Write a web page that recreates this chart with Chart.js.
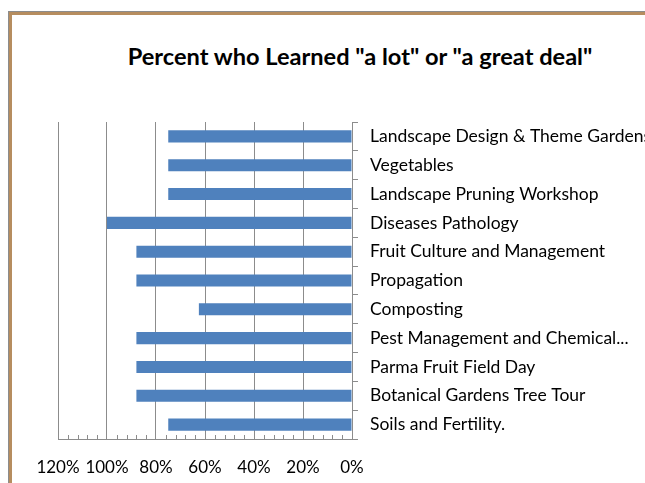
<!DOCTYPE html>
<html>
<head>
<meta charset="utf-8">
<script src="https://cdn.jsdelivr.net/npm/chart.js@4"></script>
<style>
  body { margin: 0; background: #fff; width: 645px; height: 483px; overflow: hidden; position: relative; }
  #frame { position: absolute; left: 8px; top: 11px; width: 700px; height: 500px; border-top: 1px solid #8c8c8c; border-left: 1px solid #8c8c8c; }
  #frame2 { position: absolute; left: 0; top: 0; right: 0; bottom: 0; border-top: 3px solid #b68d5f; border-left: 3px solid #b68d5f; }
  #title { position: absolute; left: 60px; width: 600px; top: 42px; text-align: center; font: bold 23.6px Lato, sans-serif; color: #000; }
  #wrap { position: absolute; left: 0; top: 0; width: 645px; height: 483px; }
</style>
</head>
<body>
<div id="frame"><div id="frame2"></div></div>
<div id="title">Percent who Learned "a lot" or "a great deal"</div>
<div id="wrap"><canvas id="mychart" width="645" height="483"></canvas></div>
<script>
// categories (top to bottom) and values
const workshops = [
    'Landscape Design & Theme Gardens',
    'Vegetables',
    'Landscape Pruning Workshop',
    'Diseases Pathology',
    'Fruit Culture and Management',
    'Propagation',
    'Composting',
    'Pest Management and Chemical...',
    'Parma Fruit Field Day',
    'Botanical Gardens Tree Tour',
    'Soils and Fertility.'
];
const learnedPct = [0.75, 0.75, 0.75, 1.00, 0.88, 0.88, 0.625, 0.88, 0.88, 0.88, 0.75];
const xTicks = [0, 0.2, 0.4, 0.6, 0.8, 1.0, 1.2];

// little minor ticks along the bottom axis
const minorTicks = {
    id: 'minorTicks',
    afterDraw(chart) {
        const ctx = chart.ctx;
        const xs = chart.scales.x;
        const bottom = chart.chartArea.bottom;
        ctx.save();
        ctx.strokeStyle = '#8c8c8c';
        ctx.lineWidth = 1;
        for (let i = 0; i < xTicks.length - 1; i++) {
            for (let k = 1; k < 5; k++) {
                const v = xTicks[i] + (xTicks[i + 1] - xTicks[i]) * k / 5;
                const px = Math.round(xs.getPixelForValue(v)) + 0.5;
                ctx.beginPath();
                ctx.moveTo(px, bottom);
                ctx.lineTo(px, bottom - 4);
                ctx.stroke();
            }
        }
        ctx.restore();
    }
};

new Chart(document.getElementById('mychart').getContext('2d'), {
    type: 'bar',
    data: {
        labels: workshops,
        datasets: [{
            label: 'Percent',
            data: learnedPct,
            backgroundColor: '#4f81bd',
            borderWidth: 0,
            categoryPercentage: 1,
            barPercentage: 0.42
        }]
    },
    options: {
        indexAxis: 'y',
        responsive: false,
        animation: false,
        layout: { padding: { left: 58, top: 122, right: 0, bottom: 0 } },
        plugins: {
            legend: { display: false },
            tooltip: { enabled: false }
        },
        scales: {
            x: {
                reverse: true,
                min: 0,
                max: 1.2,
                afterBuildTicks(scale) {
                    scale.ticks = xTicks.map(v => ({ value: v }));
                },
                afterFit(scale) { scale.height = 44; },
                grid: { color: '#8c8c8c', tickLength: 0, lineWidth: 1 },
                border: { color: '#8c8c8c' },
                ticks: {
                    padding: 18,
                    color: '#000',
                    maxRotation: 0,
                    minRotation: 0,
                    autoSkip: false,
                    font: { family: 'Lato', size: 17 },
                    callback: v => Math.round(v * 100) + '%'
                }
            },
            y: {
                position: 'right',
                afterFit(scale) { scale.width = 293; },
                grid: { drawOnChartArea: false, offset: true, tickLength: 6, color: '#8c8c8c' },
                border: { color: '#8c8c8c' },
                ticks: {
                    padding: 12,
                    color: '#000',
                    font: { family: 'Lato', size: 17.5 }
                }
            }
        }
    },
    plugins: [minorTicks]
});
</script>
</body>
</html>
